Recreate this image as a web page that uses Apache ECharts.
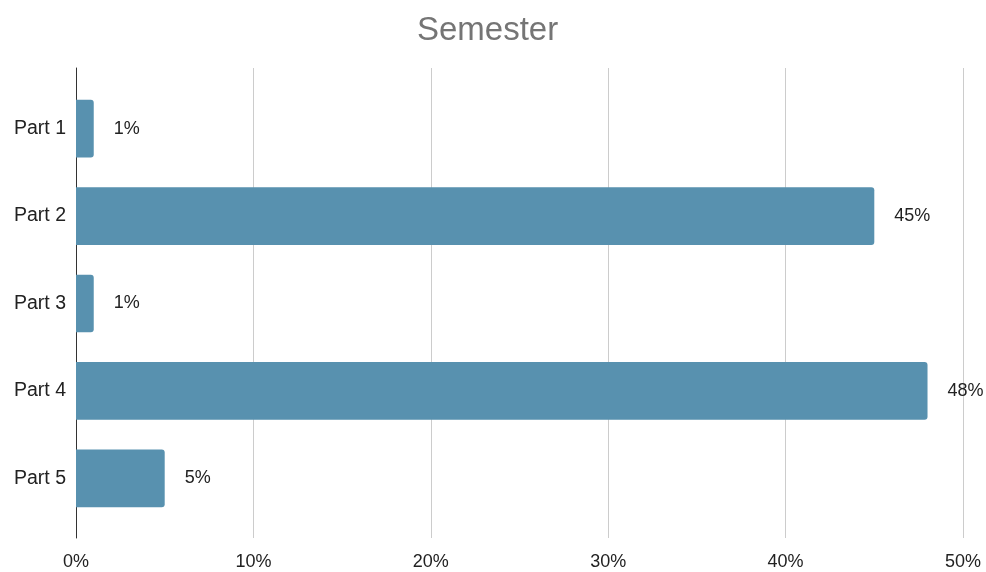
<!DOCTYPE html>
<html>
<head>
<meta charset="utf-8">
<script src="https://cdn.jsdelivr.net/npm/echarts@6/dist/echarts.min.js"></script>
<style>
html,body{margin:0;padding:0;background:#fff;}
#chart{width:986px;height:572px;}
</style>
</head>
<body>
<div id="chart"></div>
<script>
const categories = ['Part 1', 'Part 2', 'Part 3', 'Part 4', 'Part 5'];
const values = [1, 45, 1, 48, 5];
const xTicks = [0, 10, 20, 30, 40, 50];
const titleText = 'Semester';

const FONT = '"Liberation Sans", Arial, sans-serif';
const chart = echarts.init(document.getElementById('chart'));
chart.setOption({
  animation: false,
  backgroundColor: '#ffffff',
  title: {
    text: titleText,
    left: 412,
    top: 9,
    textStyle: { fontFamily: FONT, fontSize: 33, fontWeight: 'normal', color: '#757575' }
  },
  grid: [
    { left: 76, right: 23, top: 85, bottom: 50 },
    { left: 76, right: 23, top: 68, bottom: 34 }
  ],
  xAxis: [
    {
      gridIndex: 0, type: 'value', min: xTicks[0], max: xTicks[xTicks.length - 1], interval: 10,
      show: false
    },
    {
      gridIndex: 1, type: 'value', min: xTicks[0], max: xTicks[xTicks.length - 1], interval: 10,
      axisLine: { show: false },
      axisTick: { show: false },
      splitLine: { show: true, lineStyle: { color: '#cccccc', width: 1 } },
      axisLabel: {
        margin: 15,
        fontFamily: FONT, fontSize: 18, color: '#222222',
        formatter: '{value}%'
      }
    }
  ],
  yAxis: [
    {
      gridIndex: 0, type: 'category', data: categories, inverse: true,
      axisLine: { show: false },
      axisTick: { show: false },
      splitLine: { show: false },
      axisLabel: { margin: 10, fontFamily: FONT, fontSize: 19.5, color: '#222222' }
    },
    {
      gridIndex: 1, type: 'value', min: 0, max: 1,
      axisLine: { show: true, lineStyle: { color: '#333333', width: 1 } },
      axisTick: { show: false },
      axisLabel: { show: false },
      splitLine: { show: false }
    }
  ],
  series: [
    {
      type: 'bar',
      xAxisIndex: 0,
      yAxisIndex: 0,
      data: values,
      barCategoryGap: '34%',
      itemStyle: { color: '#5891af', borderRadius: [0, 3, 3, 0] },
      label: {
        show: true,
        position: 'right',
        distance: 20,
        formatter: '{c}%',
        fontFamily: FONT, fontSize: 18, color: '#222222'
      }
    }
  ]
});
</script>
</body>
</html>
